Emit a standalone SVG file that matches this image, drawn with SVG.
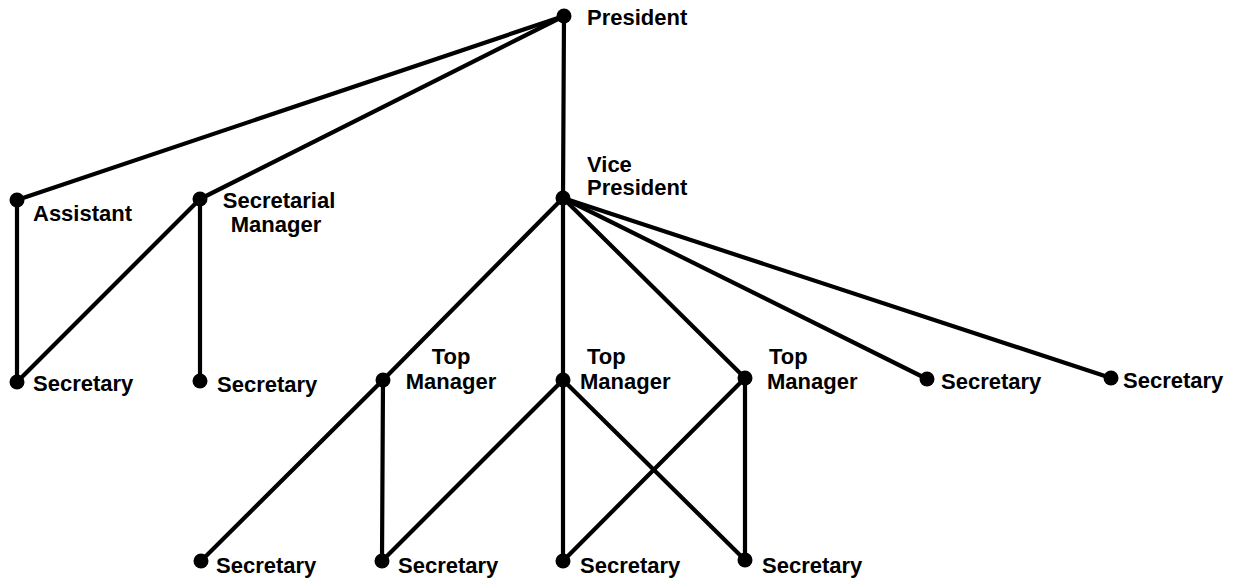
<svg xmlns="http://www.w3.org/2000/svg" width="1233" height="580" viewBox="0 0 1233 580">
<style>
.e{stroke:#000;stroke-width:4.2;fill:none;stroke-linecap:round}
.d{fill:#000}
text{font-family:"Liberation Sans",Arial,sans-serif;font-weight:bold;font-size:22px;fill:#000}
.m{text-anchor:middle}
</style>
<rect width="1233" height="580" fill="#fff"/>
<g id="connectors">
<line class="e" x1="564" y1="16" x2="17" y2="200"/>
<line class="e" x1="564" y1="16" x2="200" y2="199"/>
<line class="e" x1="564" y1="16" x2="563" y2="198"/>
<line class="e" x1="17" y1="200" x2="17" y2="382"/>
<line class="e" x1="200" y1="199" x2="17" y2="382"/>
<line class="e" x1="200" y1="199" x2="200" y2="381"/>
<line class="e" x1="563" y1="198" x2="383" y2="380"/>
<line class="e" x1="563" y1="198" x2="563" y2="380"/>
<line class="e" x1="563" y1="198" x2="745" y2="378"/>
<line class="e" x1="563" y1="198" x2="927" y2="379"/>
<line class="e" x1="563" y1="198" x2="1111" y2="378"/>
<line class="e" x1="383" y1="380" x2="201" y2="561"/>
<line class="e" x1="383" y1="380" x2="382" y2="561"/>
<line class="e" x1="563" y1="380" x2="382" y2="561"/>
<line class="e" x1="563" y1="380" x2="563" y2="561"/>
<line class="e" x1="563" y1="380" x2="745" y2="560"/>
<line class="e" x1="745" y1="378" x2="563" y2="561"/>
<line class="e" x1="745" y1="378" x2="745" y2="560"/>
</g>
<g id="president"><circle class="d" cx="564" cy="16" r="7.5"/><text x="587" y="25">President</text></g>
<g id="vice-president"><circle class="d" cx="563" cy="198" r="7.5"/><text x="587" y="172">Vice</text><text x="587" y="195">President</text></g>
<g id="assistant"><circle class="d" cx="17" cy="200" r="7.5"/><text x="33" y="221">Assistant</text></g>
<g id="secretarial-manager"><circle class="d" cx="200" cy="199" r="7.5"/><text class="m" x="279" y="208">Secretarial</text><text class="m" x="276" y="232">Manager</text></g>
<g id="secretary-1"><circle class="d" cx="17" cy="382" r="7.5"/><text x="33" y="391">Secretary</text></g>
<g id="secretary-2"><circle class="d" cx="200" cy="381" r="7.5"/><text x="217" y="392">Secretary</text></g>
<g id="top-manager-1"><circle class="d" cx="383" cy="380" r="7.5"/><text class="m" x="451" y="364">Top</text><text class="m" x="451" y="389">Manager</text></g>
<g id="top-manager-2"><circle class="d" cx="563" cy="380" r="7.5"/><text x="587" y="364">Top</text><text x="580" y="389">Manager</text></g>
<g id="top-manager-3"><circle class="d" cx="745" cy="378" r="7.5"/><text x="769" y="364">Top</text><text x="767" y="389">Manager</text></g>
<g id="secretary-3"><circle class="d" cx="927" cy="379" r="7.5"/><text x="941" y="389">Secretary</text></g>
<g id="secretary-4"><circle class="d" cx="1111" cy="378" r="7.5"/><text x="1123" y="388">Secretary</text></g>
<g id="secretary-5"><circle class="d" cx="201" cy="561" r="7.5"/><text x="216" y="573">Secretary</text></g>
<g id="secretary-6"><circle class="d" cx="382" cy="561" r="7.5"/><text x="398" y="573">Secretary</text></g>
<g id="secretary-7"><circle class="d" cx="563" cy="561" r="7.5"/><text x="580" y="573">Secretary</text></g>
<g id="secretary-8"><circle class="d" cx="745" cy="560" r="7.5"/><text x="762" y="573">Secretary</text></g>
</svg>
